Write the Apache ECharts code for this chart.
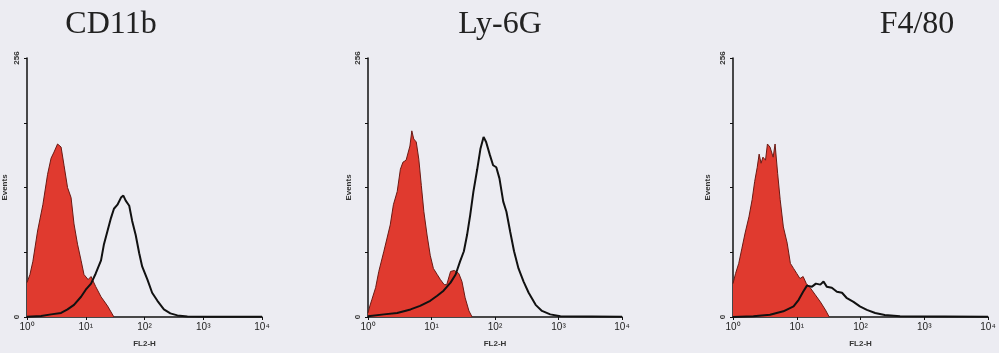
<!DOCTYPE html>
<html>
<head>
<meta charset="utf-8">
<script src="https://cdn.jsdelivr.net/npm/echarts@6.0.0/dist/echarts.min.js"></script>
<style>
  html, body { margin: 0; padding: 0; background: #ececf2; }
  #chart { width: 999px; height: 353px; }
</style>
</head>
<body>
<div id="chart"></div>
<script>
// panel titles
const panelTitles = ["CD11b", "Ly-6G", "F4/80"];

// x positions are in decades (0 = 10^0 ... 4 = 10^4), y = events (0-256)
// CD11b
const cd11bRedX = [0, 0.05, 0.1, 0.18, 0.27, 0.35, 0.41, 0.46, 0.52, 0.58, 0.63, 0.69, 0.75, 0.8, 0.86, 0.92, 0.97, 1.04, 1.09, 1.17, 1.26, 1.37, 1.48];
const cd11bRedY = [34, 42, 55, 85, 111, 141, 157, 163, 171, 168, 150, 128, 118, 92, 72, 56, 42, 37, 40, 30, 20, 11, 0];
const cd11bBlackX = [0, 0.24, 0.41, 0.58, 0.69, 0.8, 0.92, 1.0, 1.09, 1.17, 1.26, 1.31, 1.37, 1.43, 1.48, 1.54, 1.6, 1.64, 1.68, 1.74, 1.79, 1.85, 1.91, 1.96, 2.05, 2.13, 2.22, 2.33, 2.44, 2.56, 2.73, 3.07, 4];
const cd11bBlackY = [0.3, 1, 2.6, 4, 7.5, 12, 20, 27, 33, 43, 56, 72, 85, 98, 107, 111, 118, 120, 115, 110, 95, 81, 63, 50, 37, 24, 16, 7.5, 3.6, 1.6, 0.6, 0.3, 0.3];

// Ly-6G
const ly6gRedX = [0, 0.03, 0.06, 0.12, 0.17, 0.25, 0.3, 0.35, 0.4, 0.46, 0.51, 0.55, 0.6, 0.66, 0.69, 0.72, 0.76, 0.8, 0.84, 0.88, 0.93, 0.98, 1.03, 1.09, 1.14, 1.2, 1.24, 1.3, 1.36, 1.43, 1.48, 1.53, 1.59, 1.64];
const ly6gRedY = [4, 11, 17, 29, 45, 65, 78, 91, 111, 124, 146, 153, 155, 169, 184, 176, 173, 156, 130, 104, 81, 61, 48, 42, 37, 32, 32, 45, 46, 43, 35, 19, 6, 0];
const ly6gBlackX = [0, 0.25, 0.46, 0.67, 0.82, 0.98, 1.09, 1.19, 1.3, 1.38, 1.45, 1.51, 1.56, 1.61, 1.66, 1.72, 1.77, 1.82, 1.86, 1.92, 1.97, 2.02, 2.07, 2.13, 2.18, 2.24, 2.3, 2.37, 2.45, 2.53, 2.64, 2.74, 2.87, 3.03, 4];
const ly6gBlackY = [0.7, 2.6, 4, 7.5, 11, 16, 21, 26, 34, 42, 55, 65, 81, 101, 124, 146, 166, 178, 173, 160, 150, 148, 137, 114, 104, 84, 65, 48, 35, 24, 12, 6, 2.6, 0.7, 0.3];

// F4/80
const f480RedX = [0, 0.04, 0.09, 0.14, 0.19, 0.25, 0.3, 0.34, 0.38, 0.41, 0.44, 0.47, 0.51, 0.54, 0.58, 0.63, 0.66, 0.7, 0.74, 0.79, 0.85, 0.9, 0.95, 1.0, 1.05, 1.1, 1.15, 1.21, 1.29, 1.37, 1.45, 1.51];
const f480RedY = [33, 43, 53, 68, 83, 99, 116, 134, 148, 161, 152, 158, 155, 171, 168, 158, 171, 142, 116, 89, 73, 53, 48, 43, 38, 40, 33, 29, 22, 15, 7, 0];
const f480BlackX = [0, 0.32, 0.58, 0.79, 0.95, 1.03, 1.1, 1.16, 1.24, 1.3, 1.37, 1.42, 1.47, 1.55, 1.63, 1.71, 1.78, 1.89, 1.99, 2.1, 2.23, 2.38, 2.62, 4];
const f480BlackY = [0, 0.7, 2.3, 5.6, 10.5, 17, 25, 31, 30, 33, 32, 35, 30, 29, 25, 24, 19, 15, 10.5, 7, 4, 2, 0.7, 0.3];

// axis ticks
const xTicks = ["10\u2070", "10\u00b9", "10\u00b2", "10\u00b3", "10\u2074"];
const yMax = 256;

const panels = [
  { title: panelTitles[0], redX: cd11bRedX, redY: cd11bRedY, blackX: cd11bBlackX, blackY: cd11bBlackY,
    grid: { left: 26, top: 58, width: 236, height: 263 }, titleX: 111, yNameGap: 18 },
  { title: panelTitles[1], redX: ly6gRedX, redY: ly6gRedY, blackX: ly6gBlackX, blackY: ly6gBlackY,
    grid: { left: 368, top: 58, width: 254, height: 262 }, titleX: 500, yNameGap: 10 },
  { title: panelTitles[2], redX: f480RedX, redY: f480RedY, blackX: f480BlackX, blackY: f480BlackY,
    grid: { left: 733, top: 58, width: 255, height: 259 }, titleX: 917, yNameGap: 21 },
];

const zip = (xs, ys) => xs.map((x, i) => [x, ys[i]]);

const chart = echarts.init(document.getElementById("chart"));

chart.setOption({
  backgroundColor: "#ececf2",
  animation: false,
  graphic: panels.map((p) => ({
    type: "text",
    x: p.titleX,
    y: 25,
    style: {
      text: p.title,
      font: "32px 'Liberation Serif', 'DejaVu Serif', serif",
      fill: "#222",
      textAlign: "center",
      textVerticalAlign: "middle",
    },
  })),
  grid: panels.map((p) => p.grid),
  xAxis: panels.map((p, i) => ({
    type: "value",
    gridIndex: i,
    min: 0,
    max: 4,
    interval: 1,
    name: "FL2-H",
    nameLocation: "middle",
    nameGap: 23,
    nameTextStyle: { fontSize: 8, fontWeight: "bold", color: "#333", fontFamily: "Liberation Sans" },
    axisLine: { lineStyle: { color: "#111", width: 1.5 } },
    axisTick: { show: true, length: 3, lineStyle: { color: "#111" } },
    splitLine: { show: false },
    axisLabel: {
      margin: 5,
      fontSize: 10,
      color: "#222",
      fontFamily: "Liberation Sans",
      formatter: (v) => xTicks[v] ?? "",
    },
  })),
  yAxis: panels.map((p, i) => ({
    type: "value",
    gridIndex: i,
    min: 0,
    max: yMax,
    interval: 64,
    name: "Events",
    nameLocation: "middle",
    nameGap: p.yNameGap,
    nameTextStyle: { fontSize: 8, fontWeight: "bold", color: "#333", fontFamily: "Liberation Sans" },
    axisLine: { show: true, lineStyle: { color: "#111", width: 1.5 } },
    axisTick: { show: true, length: 3, lineStyle: { color: "#111" } },
    splitLine: { show: false },
    axisLabel: {
      rotate: 90,
      margin: 6,
      fontSize: 8,
      fontWeight: "bold",
      color: "#333",
      fontFamily: "Liberation Sans",
      formatter: (v) => (v === 0 || v === yMax ? String(v) : ""),
    },
  })),
  series: panels.flatMap((p, i) => [
    {
      type: "line",
      xAxisIndex: i,
      yAxisIndex: i,
      data: zip(p.redX, p.redY),
      showSymbol: false,
      z: 2,
      lineStyle: { color: "#6a1a14", width: 1 },
      areaStyle: { color: "#e03a2f", opacity: 1 },
    },
    {
      type: "line",
      xAxisIndex: i,
      yAxisIndex: i,
      data: zip(p.blackX, p.blackY),
      showSymbol: false,
      z: 3,
      lineStyle: { color: "#111", width: 2 },
    },
  ]),
});
</script>
</body>
</html>
